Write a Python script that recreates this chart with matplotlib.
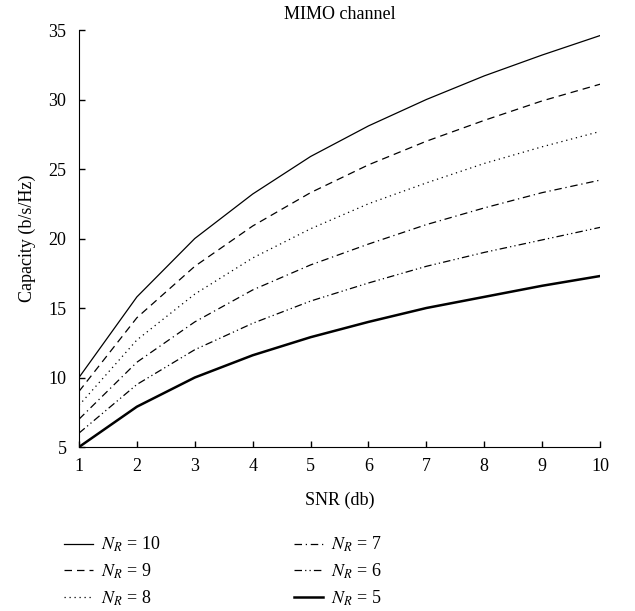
import matplotlib
matplotlib.use("Agg")
import matplotlib.pyplot as plt

plt.rcParams['font.family'] = ['Liberation Serif', 'DejaVu Serif']
plt.rcParams['mathtext.fontset'] = 'stix'

# Data
snr = [1, 2, 3, 4, 5, 6, 7, 8, 9, 10]
cap_10 = [10, 15.8, 20, 23.2, 25.9, 28.1, 30, 31.7, 33.2, 34.6]
cap_9 = [9, 14.3, 18, 20.9, 23.3, 25.3, 27, 28.5, 29.9, 31.1]
cap_8 = [8, 12.7, 16, 18.6, 20.7, 22.5, 24, 25.4, 26.6, 27.7]
cap_7 = [7, 11.1, 14, 16.3, 18.1, 19.6, 21, 22.2, 23.3, 24.2]
cap_6 = [6, 9.5, 12, 13.9, 15.5, 16.8, 18, 19.0, 19.9, 20.8]
cap_5 = [5, 7.9, 10, 11.6, 12.9, 14.0, 15, 15.8, 16.6, 17.3]
x_ticks = [1, 2, 3, 4, 5, 6, 7, 8, 9, 10]
y_ticks = [5, 10, 15, 20, 25, 30, 35]

fig = plt.figure(figsize=(6.35, 6.11), dpi=100)
ax = fig.add_axes([0.1244, 0.2684, 0.8206, 0.6825])

ax.plot(snr, cap_10, color='black', lw=0.9, ls='-', label='$N_R$ = 10')
ax.plot(snr, cap_9, color='black', lw=0.9, ls=(0, (6, 4)), label='$N_R$ = 9')
ax.plot(snr, cap_8, color='black', lw=0.9, ls=(0, (1, 3)), label='$N_R$ = 8')
ax.plot(snr, cap_7, color='black', lw=0.9, ls=(0, (6, 3, 1, 3)), label='$N_R$ = 7')
ax.plot(snr, cap_6, color='black', lw=0.9, ls=(0, (6, 2.5, 1, 2.5, 1, 2.5)), label='$N_R$ = 6')
ax.plot(snr, cap_5, color='black', lw=1.8, ls='-', label='$N_R$ = 5')

ax.set_xlim(1, 10)
ax.set_ylim(5, 35)
ax.set_xticks(x_ticks)
ax.set_yticks(y_ticks)
ax.spines['top'].set_visible(False)
ax.spines['right'].set_visible(False)
ax.tick_params(direction='in', length=4, labelsize=13, width=1)
ax.tick_params(axis='x', pad=8)
ax.tick_params(axis='y', pad=9)
ax.set_xlabel('SNR (db)', fontsize=13, labelpad=12)
ax.set_ylabel('Capacity (b/s/Hz)', fontsize=13, labelpad=9)
ax.set_title('MIMO channel', fontsize=13, pad=8)

# legend order: column 1 = 10, 9, 8 ; column 2 = 7, 6, 5
fig.legend(loc='lower left', bbox_to_anchor=(0.075, -0.022), ncol=2, frameon=False,
           fontsize=13, handlelength=1.6, handletextpad=0.45,
           columnspacing=7.4, labelspacing=0.42)

fig.savefig('out.png', dpi=100)
